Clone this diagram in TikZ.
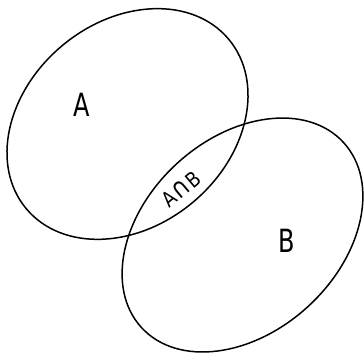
\documentclass[tikz,border=0pt]{standalone}
\usepackage{fontspec}
\setmainfont{DejaVu Sans}
\begin{document}
\begin{tikzpicture}[x=1pt,y=1pt,
  setline/.style={line width=1.5pt, black},
  lbl/.style={inner sep=0pt, font=\fontsize{32}{32}\selectfont},
  ilbl/.style={inner sep=0pt, font=\fontsize{21}{21}\selectfont}]
\useasboundingbox (0,0) rectangle (364,355);
\coordinate (ca) at (127.5,231);
\coordinate (cb) at (242.5,120);
\draw[setline, rotate around={40:(ca)}] (ca) ellipse [x radius=132, y radius=102];
\draw[setline, rotate around={42.5:(cb)}] (cb) ellipse [x radius=137, y radius=97];
\node[lbl, xscale=0.75] (la) at (82,250) {A};
\node[lbl, xscale=0.75] (lb) at (287,114) {B};
\node[ilbl, rotate=40, xscale=0.85] (lab) at (181,166) {A\kern1pt{\fontsize{27}{27}\selectfont ∩}\kern1pt B};
\end{tikzpicture}
\end{document}
